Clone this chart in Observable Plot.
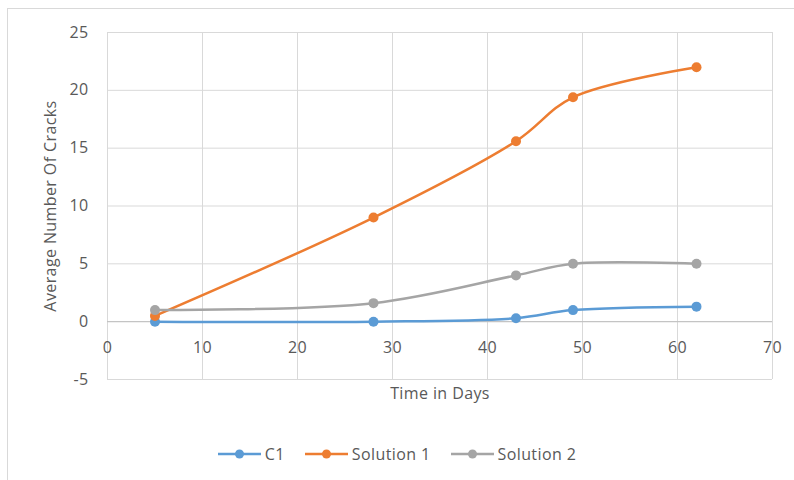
<!DOCTYPE html>
<html>
<head>
<meta charset="utf-8">
<script src="https://cdn.jsdelivr.net/npm/d3@7"></script>
<script src="https://cdn.jsdelivr.net/npm/@observablehq/plot@0.6"></script>
<style>
  body { margin: 0; background: #fff; font-family: "Open Sans", sans-serif; }
  #wrap { position: relative; width: 794px; height: 480px; overflow: hidden; }
  #frame { position: absolute; left: 7px; top: 8px; width: 790px; height: 480px; border: 1px solid #d9d9d9; box-sizing: border-box; }
  #chart { position: absolute; left: 0; top: 0; }
  #chart text { letter-spacing: 0.4px; }
  #legend { position: absolute; left: 0; top: 443px; width: 794px; display: flex; justify-content: center; color: #595959; font-size: 16px; letter-spacing: 0.4px; }
  .item { display: flex; align-items: center; margin: 0 10px; }
  .item svg { margin-right: 4px; }
</style>
</head>
<body>
<div id="wrap">
  <div id="frame"></div>
  <div id="chart"></div>
  <div id="legend"></div>
</div>
<script>
// Average crack counts observed over time for each mix
const days = [5, 28, 43, 49, 62];
const c1 = [0, 0, 0.3, 1, 1.3];
const solution1 = [0.5, 9, 15.6, 19.4, 22];
const solution2 = [1, 1.6, 4, 5, 5];

const seriesNames = ["C1", "Solution 1", "Solution 2"];
const seriesColors = ["#5B9BD5", "#ED7D31", "#A5A5A5"];
const xTicks = [0, 10, 20, 30, 40, 50, 60, 70];
const yTicks = [-5, 0, 5, 10, 15, 20, 25];

const seriesValues = [c1, solution1, solution2];
const rows = seriesNames.flatMap((name, i) =>
  days.map((d, j) => ({series: name, day: d, value: seriesValues[i][j]}))
);

const textColor = "#595959";
const gridColor = "#d9d9d9";
const fmt = d => String(d);

const chart = Plot.plot({
  width: 794,
  height: 430,
  marginLeft: 107,
  marginRight: 22,
  marginTop: 32,
  marginBottom: 51,
  style: {fontFamily: "Open Sans", fontSize: "16px", color: textColor, background: "transparent"},
  x: {domain: [0, 70], axis: null},
  y: {domain: [-5, 25], axis: null},
  color: {domain: seriesNames, range: seriesColors},
  marks: [
    Plot.gridX(xTicks, {stroke: gridColor, strokeOpacity: 1, strokeWidth: 1}),
    Plot.gridY(yTicks, {stroke: gridColor, strokeOpacity: 1, strokeWidth: 1}),
    Plot.ruleY([0], {stroke: "#bfbfbf", strokeWidth: 1}),
    Plot.axisY(yTicks, {tickSize: 0, tickPadding: 19, tickFormat: fmt, label: null, fill: textColor, fontSize: 16}),
    Plot.text(xTicks, {x: d => d, y: () => 0, dy: 26, text: fmt, fill: textColor, fontSize: 16}),
    Plot.text(["Average Number Of Cracks"], {frameAnchor: "left", textAnchor: "middle", rotate: -90, dx: -57, fill: textColor, fontSize: 16}),
    Plot.text(["Time in Days"], {frameAnchor: "bottom", dy: 19, fill: textColor, fontSize: 16}),
    Plot.line(rows, {x: "day", y: "value", stroke: "series", z: "series", curve: "catmull-rom", strokeWidth: 2.5}),
    Plot.dot(rows, {x: "day", y: "value", fill: "series", r: 5, stroke: null})
  ]
});
document.getElementById("chart").appendChild(chart);

// Legend entries: line-with-marker swatch followed by the series name
const legend = document.getElementById("legend");
seriesNames.forEach((name, i) => {
  const item = document.createElement("div");
  item.className = "item";
  item.innerHTML =
    `<svg width="43" height="12"><line x1="0" y1="6" x2="43" y2="6" stroke="${seriesColors[i]}" stroke-width="2.5"/>` +
    `<circle cx="21.5" cy="6" r="4.5" fill="${seriesColors[i]}"/></svg><span>${name}</span>`;
  legend.appendChild(item);
});
</script>
</body>
</html>
